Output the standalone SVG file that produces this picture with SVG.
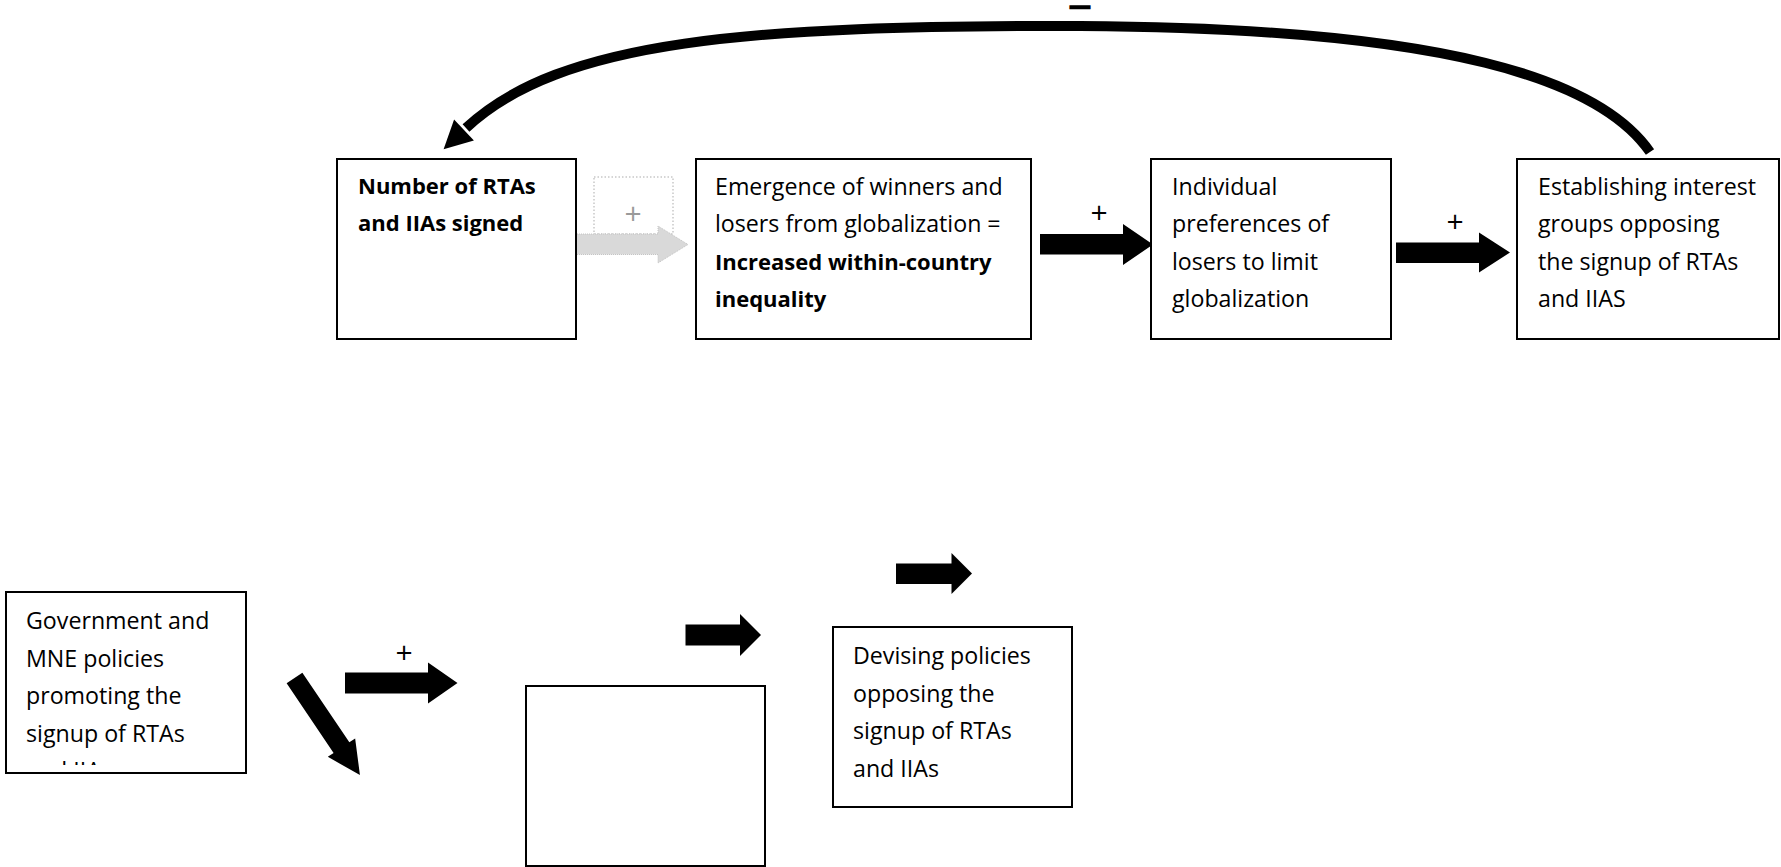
<svg xmlns="http://www.w3.org/2000/svg" width="1781" height="867" viewBox="0 0 1781 867">
<defs>
<style>
.box{fill:#fff;stroke:#000;stroke-width:2}
.t{font-family:"Open Sans","Liberation Sans",sans-serif;font-size:23.2px;fill:#000}
.b{font-weight:700;font-size:22px}
.arr{fill:#000}
.sign{font-family:"Open Sans","Liberation Sans",sans-serif;font-size:30px;fill:#000;text-anchor:middle}
</style>
<clipPath id="clip5"><rect x="7" y="593" width="238" height="172"/></clipPath>
</defs>
<rect width="1781" height="867" fill="#fff"/>

<g id="connectors">
  <!-- feedback curve -->
  <path d="M1650,152 C1600,80 1450,28 1080,26 C750,25 560,40 466,128" fill="none" stroke="#000" stroke-width="10"/>
  <polygon class="arr" points="443.6,149.2 454.1,119.4 473.9,140.6"/>
  <text x="1080" y="11" text-anchor="middle" textLength="15" lengthAdjust="spacingAndGlyphs" style="font-family:'Liberation Sans',sans-serif;font-weight:700;font-size:12px;fill:#000;stroke:#000;stroke-width:2.6">-</text>
  <!-- gray arrow -->
  <rect x="594" y="177" width="79" height="57" fill="none" stroke="#c8c8c8" stroke-width="1.5" stroke-dasharray="1.5 2"/>
  <polygon points="575,234 658,234 658,226 688,244.5 658,263 658,254.5 575,254.5" fill="#d9d9d9" stroke="#c4c4c4" stroke-width="1" stroke-dasharray="1 1"/>
  <text class="sign" x="633" y="224" style="fill:#9a9a9a">+</text>
  <!-- arrow box2->box3 -->
  <polygon class="arr" points="1040,234 1123,234 1123,224 1153,244.5 1123,265 1123,254.5 1040,254.5"/>
  <text class="sign" x="1099" y="223">+</text>
  <!-- arrow box3->box4 -->
  <polygon class="arr" points="1396,242.5 1479,242.5 1479,232.5 1510,252.5 1479,272.5 1479,263 1396,263"/>
  <text class="sign" x="1455" y="232">+</text>
  <!-- bottom arrows -->
  <polygon class="arr" points="345,672.5 428,672.5 428,662.5 457.5,683 428,703.5 428,693.5 345,693.5"/>
  <text class="sign" x="404" y="663">+</text>
  <polygon class="arr" transform="translate(294.5,678) rotate(56)" points="0,-9.5 84,-9.5 84,-16.5 117,0 84,16.5 84,9.5 0,9.5"/>
  <polygon class="arr" points="685.5,624.5 740,624.5 740,614 761,635 740,656 740,645.5 685.5,645.5"/>
  <polygon class="arr" points="896,563.5 951.5,563.5 951.5,553 972,573.5 951.5,594 951.5,584 896,584"/>
</g>

<g id="node-rtas">
  <rect class="box" x="337" y="159" width="239" height="180"/>
  <text class="t b" x="358" y="194">Number of RTAs</text>
  <text class="t b" x="358" y="231">and IIAs signed</text>
</g>

<g id="node-inequality">
  <rect class="box" x="696" y="159" width="335" height="180"/>
  <text class="t" x="715" y="194.5">Emergence of winners and</text>
  <text class="t" x="715" y="232">losers from globalization =</text>
  <text class="t b" x="715" y="269.5">Increased within-country</text>
  <text class="t b" x="715" y="307">inequality</text>
</g>

<g id="node-preferences">
  <rect class="box" x="1151" y="159" width="240" height="180"/>
  <text class="t" x="1172" y="194.5">Individual</text>
  <text class="t" x="1172" y="232">preferences of</text>
  <text class="t" x="1172" y="269.5">losers to limit</text>
  <text class="t" x="1172" y="307">globalization</text>
</g>

<g id="node-interest-groups">
  <rect class="box" x="1517" y="159" width="262" height="180"/>
  <text class="t" x="1538" y="194.5">Establishing interest</text>
  <text class="t" x="1538" y="232">groups opposing</text>
  <text class="t" x="1538" y="269.5">the signup of RTAs</text>
  <text class="t" x="1538" y="307">and IIAS</text>
</g>

<g id="node-government">
  <rect class="box" x="6" y="592" width="240" height="181"/>
  <g clip-path="url(#clip5)">
    <text class="t" x="26" y="629">Government and</text>
    <text class="t" x="26" y="666.5">MNE policies</text>
    <text class="t" x="26" y="704">promoting the</text>
    <text class="t" x="26" y="741.5">signup of RTAs</text>
    <text class="t" x="26" y="779">and IIAs</text>
  </g>
</g>

<g id="node-empty">
  <rect class="box" x="526" y="686" width="239" height="180"/>
</g>

<g id="node-devising">
  <rect class="box" x="833" y="627" width="239" height="180"/>
  <text class="t" x="853" y="664">Devising policies</text>
  <text class="t" x="853" y="701.5">opposing the</text>
  <text class="t" x="853" y="739">signup of RTAs</text>
  <text class="t" x="853" y="776.5">and IIAs</text>
</g>
</svg>
